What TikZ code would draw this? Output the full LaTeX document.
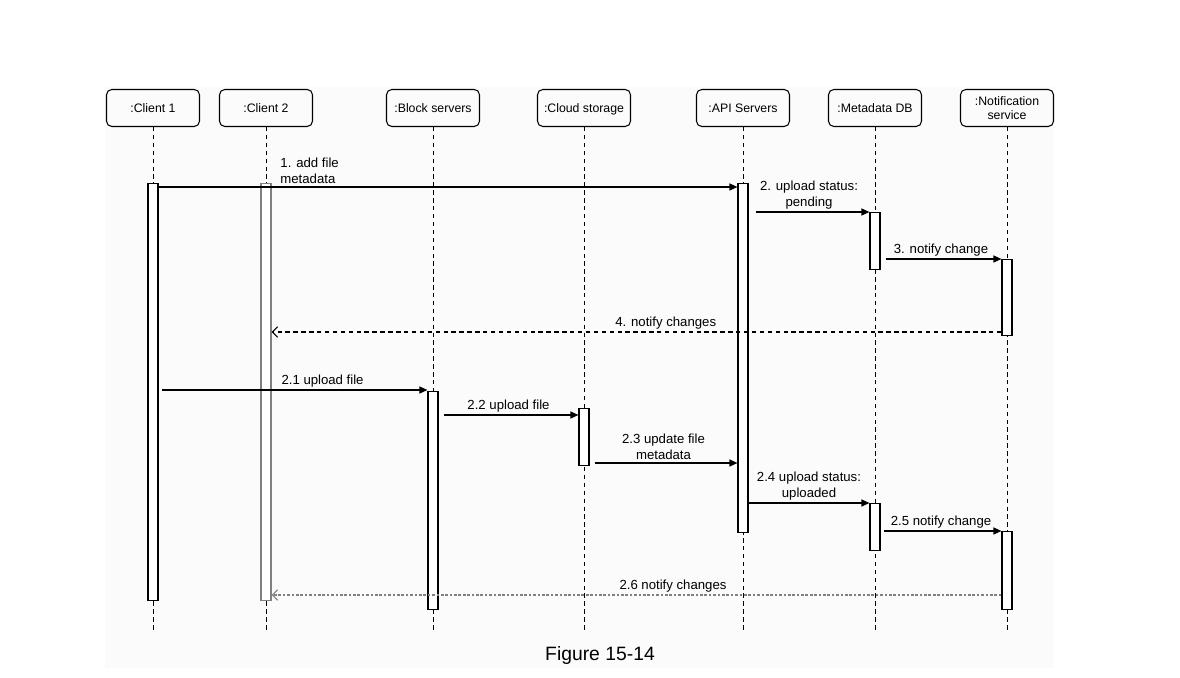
\documentclass[tikz,border=0pt]{standalone}
\usepackage{fontspec}
\setmainfont{Liberation Sans}
\usetikzlibrary{arrows.meta,calc}

\begin{document}
\begin{tikzpicture}[x=0.02cm, y=-0.02cm,
    head/.style={draw, rounded corners=3pt, minimum width=1.86cm, minimum height=0.74cm, align=center, font=\fontsize{7}{8}\selectfont, line width=0.6pt},
    life/.style={line width=0.5pt, dash pattern=on 2.5pt off 2pt},
    bar/.style={draw, fill=white, minimum width=0.2cm, inner sep=0pt, anchor=north, line width=0.7pt},
    msg/.style={-{Triangle[length=4.5pt,width=4pt]}, line width=0.6pt},
    ret/.style={-{Straight Barb[length=3pt,width=6pt]}, line width=0.6pt, dash pattern=on 2.5pt off 2pt},
    lbl/.style={font=\fontsize{7.5}{9}\selectfont, align=center, inner sep=1.5pt}]
    \useasboundingbox (0,0) rectangle (1180,678);
    \fill [black!1.5] (105,87) rectangle (1054,668);

    % Heads
    \node [head] (c1) at (153,108) {:Client 1};
    \node [head] (c2) at (266,108) {:Client 2};
    \node [head] (blk) at (433,108) {:Block servers};
    \node [head, text depth=0pt] (cld) at (584,108) {:Cloud storage};
    \node [head] (api) at (743,108) {:API Servers};
    \node [head] (db) at (875,108) {:Metadata DB};
    \node [head] (nt) at (1007,108) {:Notification\\service};

    % Lifelines
    \coordinate (yend) at (0,632);
    \foreach \n in {c1,c2,blk,cld,api,db,nt}
        \draw [life] (\n.south) -- (\n |- yend);

    % Activation bars
    \node [bar, minimum height=8.34cm] (c1bar) at (c1 |- 0,183) {};
    \node [bar, draw=gray, minimum height=8.34cm] (c2bar) at (c2 |- 0,183) {};
    \node [bar, minimum height=6.98cm] (apibar) at (api |- 0,183) {};
    \node [bar, minimum height=1.14cm] (dbbarA) at (db |- 0,212) {};
    \node [bar, minimum height=1.52cm] (ntbarA) at (nt |- 0,259) {};
    \node [bar, minimum height=4.36cm] (blkbar) at (blk |- 0,391) {};
    \node [bar, minimum height=1.14cm] (cldbar) at (cld |- 0,408) {};
    \node [bar, minimum height=0.94cm] (dbbarB) at (db |- 0,503) {};
    \node [bar, minimum height=1.56cm] (ntbarB) at (nt |- 0,531) {};

    % Rows of the messages
    \coordinate (m1) at (0,187);
    \coordinate (m2) at (0,212);
    \coordinate (m3) at (0,259);
    \coordinate (m4) at (0,332);
    \coordinate (m21) at (0,390);
    \coordinate (m22) at (0,415);
    \coordinate (m23) at (0,463);
    \coordinate (m24) at (0,503);
    \coordinate (m25) at (0,531);
    \coordinate (m26) at (0,595);

    % Step 1
    \draw [msg] (c1bar.east |- m1) -- (apibar.west |- m1)
        node [lbl, pos=0.205, above right, align=left] (l1) {1. add file\\metadata};
    \draw [msg, shorten <=4pt] (apibar.east |- m2) -- (dbbarA.west |- m2)
        node [lbl, midway, above] (l2) {2. upload status:\\pending};
    \draw [msg, shorten <=3pt] (dbbarA.east |- m3) -- (ntbarA.west |- m3)
        node [lbl, midway, above] (l3) {3. notify change};
    \draw [ret] (ntbarA.west |- m4) -- (c2bar.east |- m4)
        node [lbl, pos=0.46, above] (l4) {4. notify changes};

    % Step 2
    \draw [msg, shorten <=2pt] (c1bar.east |- m21) -- (blkbar.west |- m21)
        node [lbl, pos=0.61, above] (l21) {2.1 upload file};
    \draw [msg, shorten <=3pt] (blkbar.east |- m22) -- (cldbar.west |- m22)
        node [lbl, midway, above] (l22) {2.2 upload file};
    \draw [msg, shorten <=3pt] (cldbar.east |- m23) -- (apibar.west |- m23)
        node [lbl, midway, above] (l23) {2.3 update file\\metadata};
    \draw [msg] (apibar.east |- m24) -- (dbbarB.west |- m24)
        node [lbl, midway, above] (l24) {2.4 upload status:\\uploaded};
    \draw [msg, shorten <=2pt] (dbbarB.east |- m25) -- (ntbarB.west |- m25)
        node [lbl, midway, above] (l25) {2.5 notify change};
    \draw [ret, gray, dash pattern=on 1.5pt off 1pt] (ntbarB.west |- m26) -- (c2bar.east |- m26)
        node [lbl, black, pos=0.45, above] (l26) {2.6 notify changes};

    \node [font=\fontsize{11}{13}\selectfont] (cap) at (600,656) {Figure 15-14};
\end{tikzpicture}
\end{document}
